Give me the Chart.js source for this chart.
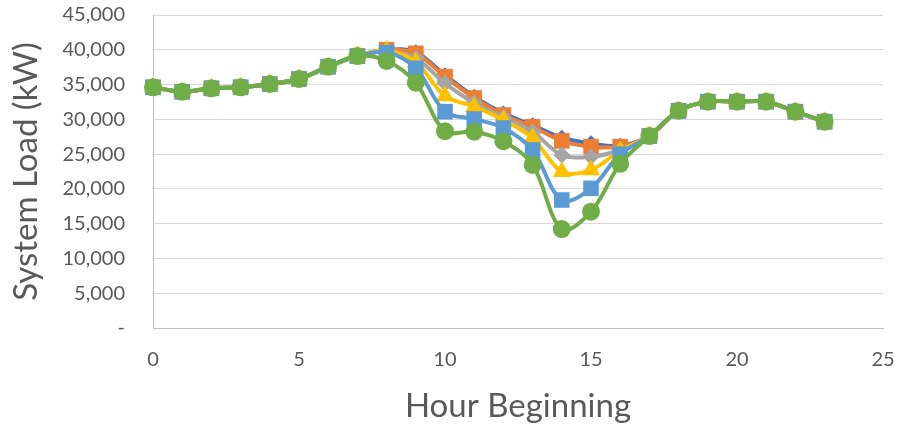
<!DOCTYPE html>
<html>
<head>
<meta charset="utf-8">
<script src="https://cdn.jsdelivr.net/npm/chart.js@4/dist/chart.umd.min.js"></script>
<style>
  html, body { margin: 0; padding: 0; background: #ffffff; }
  #wrap { width: 899px; height: 429px; position: relative; }
</style>
</head>
<body>
<div id="wrap"><canvas id="chart" width="899" height="429"></canvas></div>
<script>
// Hourly system load (kW) for six scenarios
const hours = [0,1,2,3,4,5,6,7,8,9,10,11,12,13,14,15,16,17,18,19,20,21,22,23];

const loadBase   = [34600,33970,34460,34600,35080,35800,37570,39100,40000,39650,36350,33250,30850,29150,27350,26550,26200,27600,31240,32540,32540,32540,31100,29660];
const loadCaseA  = [34600,33970,34460,34600,35080,35800,37570,39100,40000,39490,36130,33070,30620,28940,26900,26070,26070,27600,31240,32540,32540,32540,31100,29660];
const loadCaseB  = [34600,33970,34460,34600,35080,35800,37570,39100,39800,38770,35170,32350,30300,28220,24870,24630,25590,27600,31240,32540,32540,32540,31100,29660];
const loadCaseC  = [34600,33970,34460,34600,35080,35800,37570,39100,39900,38200,33360,31820,29900,27320,22470,22720,25500,27600,31240,32540,32540,32540,31100,29660];
const loadCaseD  = [34600,33970,34460,34600,35080,35800,37570,39100,39600,37340,31100,30050,28750,25590,18400,20080,25000,27600,31240,32540,32540,32540,31100,29660];
const loadCaseE  = [34600,33970,34460,34600,35080,35800,37570,39100,38390,35270,28300,28220,26850,23440,14230,16720,23600,27600,31240,32540,32540,32540,31100,29660];

const yTicks = [0,5000,10000,15000,20000,25000,30000,35000,40000,45000];
const xTicks = [0,5,10,15,20,25];

const seriesDefs = [
  { values: loadBase,  color: '#4472C4', style: 'rectRot',  radius: 8 },
  { values: loadCaseA, color: '#ED7D31', style: 'rect',     radius: 11 },
  { values: loadCaseB, color: '#A5A5A5', style: 'rectRot',  radius: 8.5 },
  { values: loadCaseC, color: '#FFC000', style: 'triangle', radius: 10.5 },
  { values: loadCaseD, color: '#5B9BD5', style: 'rect',     radius: 11 },
  { values: loadCaseE, color: '#70AD47', style: 'circle',   radius: 9 }
];

const datasets = seriesDefs.map((s, i) => ({
  data: hours.map((h, j) => ({ x: h, y: s.values[j] })),
  borderColor: s.color,
  backgroundColor: s.color,
  pointBackgroundColor: s.color,
  pointBorderColor: s.color,
  pointBorderWidth: 0,
  pointStyle: s.style,
  pointRadius: s.radius,
  pointHoverRadius: s.radius,
  borderWidth: 4,
  showLine: true,
  tension: 0.35,
  clip: false,
  order: seriesDefs.length - i
}));

const textColor = '#595959';
const fontFamily = 'Lato, "Open Sans", sans-serif';

new Chart(document.getElementById('chart'), {
  type: 'scatter',
  data: { datasets },
  options: {
    responsive: false,
    animation: false,
    layout: { autoPadding: false, padding: { top: 15, right: 16, left: 0, bottom: 0 } },
    plugins: { legend: { display: false }, tooltip: { enabled: false } },
    scales: {
      x: {
        type: 'linear',
        min: 0, max: 25,
        afterBuildTicks: (scale) => { scale.ticks = xTicks.map(v => ({ value: v })); },
        afterFit: (scale) => {
          scale.height = 101;
          scale.paddingLeft = 0;
          scale.paddingRight = 0;
        },
        grid: { display: false, drawTicks: false },
        border: { display: true, color: '#BFBFBF', width: 1 },
        ticks: { color: textColor, font: { family: fontFamily, size: 20 }, padding: 20, maxRotation: 0 },
        title: {
          display: true,
          text: 'Hour Beginning',
          color: textColor,
          font: { family: fontFamily, size: 33 },
          padding: { top: 0, bottom: 3 }
        }
      },
      y: {
        type: 'linear',
        min: 0, max: 45000,
        afterBuildTicks: (scale) => { scale.ticks = yTicks.map(v => ({ value: v })); },
        afterFit: (scale) => {
          scale.width = 153;
          scale.paddingTop = 0;
          scale.paddingBottom = 0;
        },
        grid: { color: '#D9D9D9', lineWidth: 1, drawTicks: false },
        border: { display: true, color: '#BFBFBF', width: 1 },
        ticks: {
          color: textColor,
          font: { family: fontFamily, size: 20 },
          padding: 28,
          callback: (v) => v === 0 ? '-' : Number(v).toLocaleString('en-US')
        },
        title: {
          display: true,
          text: 'System Load (kW)',
          color: textColor,
          font: { family: fontFamily, size: 33 },
          padding: { top: 7, bottom: 0 }
        }
      }
    }
  }
});
</script>
</body>
</html>
